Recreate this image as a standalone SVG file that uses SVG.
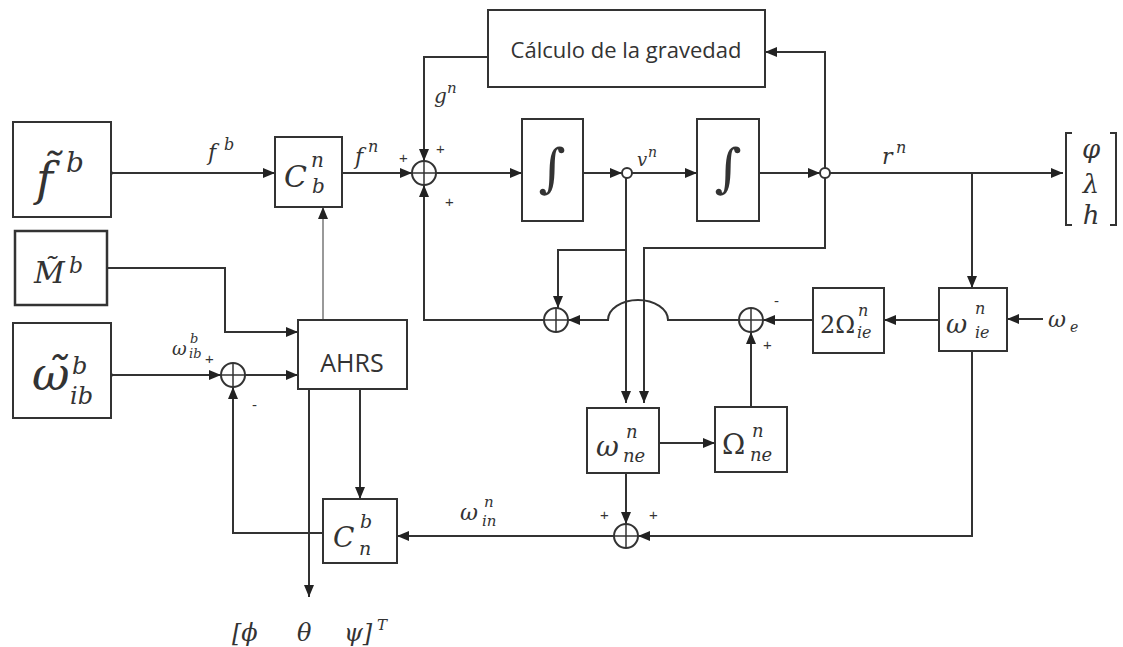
<svg xmlns="http://www.w3.org/2000/svg" width="1123" height="647" viewBox="0 0 1123 647">
<defs>
<marker id="ah" markerUnits="userSpaceOnUse" markerWidth="13" markerHeight="11" refX="12" refY="5" orient="auto"><path d="M0,0 L12,5 L0,10 z" fill="#222"/></marker>
<style>
.box{fill:#fff;stroke:#333;stroke-width:2}
.ln{fill:none;stroke:#333;stroke-width:2;marker-end:url(#ah)}
.pl{fill:none;stroke:#333;stroke-width:2}
.m{font-family:"DejaVu Serif","Liberation Serif",serif;font-style:italic;fill:#333}
.s{font-family:"Open Sans","Liberation Sans",sans-serif;fill:#333}
.sg{font-family:"Liberation Sans",sans-serif;font-size:15px;fill:#333}
.sum circle{fill:#fff;stroke:#333;stroke-width:2}
.sum path{stroke:#333;stroke-width:1.5}
</style>
</defs>
<rect width="1123" height="647" fill="#fff"/>

<g id="connectors">
<path class="ln" d="M111,173 H275"/>
<path class="ln" d="M342,173 H412"/>
<path class="ln" d="M488,57 H424 V161"/>
<path class="ln" d="M436,173 H522"/>
<path class="ln" d="M583,173 H622"/>
<path class="ln" d="M632,173 H697"/>
<path class="ln" d="M759,173 H820"/>
<path class="ln" d="M830,173 H1063"/>
<path class="ln" d="M825,168 V52 H765"/>
<path class="ln" d="M825,178 V248 H644 V403"/>
<path class="ln" d="M626,178 V403"/>
<path class="ln" d="M626,250 H558 V308"/>
<path class="ln" d="M544,320 H424 V185"/>
<path class="ln" d="M739,320 H668 A30,20 0 0 0 608,320 H568"/>
<path class="ln" d="M813,320 H763"/>
<path class="ln" d="M751,407 V332"/>
<path class="ln" d="M659,443 H715"/>
<path class="ln" d="M626,473 V524"/>
<path class="ln" d="M939,320 H884"/>
<path class="ln" d="M972,173 V288"/>
<path class="ln" d="M1043,319 H1007"/>
<path class="ln" d="M972,351 V536 H638"/>
<path class="ln" d="M614,536 H397"/>
<path class="ln" d="M323,533 H233 V387"/>
<path class="ln" d="M111,375 H221"/>
<path class="ln" d="M245,375 H298"/>
<path class="ln" d="M107,268 H225 V332 H298"/>
<path class="ln" d="M323,320 V207" style="stroke:#999"/>
<path class="ln" d="M360,389 V499"/>
<path class="ln" d="M309,389 V597"/>
<circle cx="111" cy="173" r="2" fill="#333"/>
<circle cx="111" cy="375" r="2" fill="#333"/>
</g>

<g id="sums">
<g class="sum" id="s1"><circle cx="424" cy="173" r="12"/><path d="M412,173 H436 M424,161 V185"/></g>
<g class="sum" id="s2"><circle cx="556" cy="320" r="12"/><path d="M544,320 H568 M556,308 V332"/></g>
<g class="sum" id="s3"><circle cx="751" cy="320" r="12"/><path d="M739,320 H763 M751,308 V332"/></g>
<g class="sum" id="s4"><circle cx="626" cy="536" r="12"/><path d="M614,536 H638 M626,524 V548"/></g>
<g class="sum" id="s5"><circle cx="233" cy="375" r="12"/><path d="M221,375 H245 M233,363 V387"/></g>
<circle cx="627" cy="173" r="5" fill="#fff" stroke="#333" stroke-width="2"/>
<circle cx="825" cy="173" r="5" fill="#fff" stroke="#333" stroke-width="2"/>
</g>

<g id="fb">
<rect class="box" x="13" y="122" width="98" height="95"/>
<text class="m" x="36" y="195" font-size="46">f̃</text>
<text class="m" x="66" y="172" font-size="28">b</text>
</g>
<g id="Mb">
<rect class="box" x="15" y="231" width="92" height="74" style="stroke-width:2.5"/>
<text class="m" x="34" y="283" font-size="30">M̃</text>
<text class="m" x="69" y="273" font-size="22">b</text>
</g>
<g id="wib">
<rect class="box" x="13" y="323" width="98" height="95"/>
<text class="m" x="32" y="390" font-size="46">ω̃</text>
<text class="m" x="72" y="374" font-size="24">b</text>
<text class="m" x="70" y="404" font-size="24">ib</text>
</g>
<g id="Cbn">
<rect class="box" x="275" y="137" width="67" height="70"/>
<text class="m" x="284" y="187" font-size="30">C</text>
<text class="m" x="311" y="167" font-size="20">n</text>
<text class="m" x="312" y="193" font-size="20">b</text>
</g>
<g id="calc">
<rect class="box" x="488" y="10" width="277" height="77"/>
<text class="s" x="626" y="58" font-size="22" text-anchor="middle">Cálculo de la gravedad</text>
</g>
<g id="int1">
<rect class="box" x="522" y="119" width="61" height="102"/>
<text class="m" x="552" y="186" font-size="52" text-anchor="middle" style="font-style:normal">∫</text>
</g>
<g id="int2">
<rect class="box" x="697" y="119" width="62" height="102"/>
<text class="m" x="728" y="186" font-size="52" text-anchor="middle" style="font-style:normal">∫</text>
</g>
<g id="AHRS">
<rect class="box" x="298" y="320" width="109" height="69"/>
<text class="s" x="352" y="372" font-size="25" text-anchor="middle">AHRS</text>
</g>
<g id="Cnb">
<rect class="box" x="323" y="499" width="74" height="64"/>
<text class="m" x="333" y="547" font-size="28">C</text>
<text class="m" x="360" y="528" font-size="19">b</text>
<text class="m" x="359" y="555" font-size="19">n</text>
</g>
<g id="wne">
<rect class="box" x="587" y="408" width="72" height="65"/>
<text class="m" x="596" y="456" font-size="28">ω</text>
<text class="m" x="626" y="438" font-size="18">n</text>
<text class="m" x="623" y="462" font-size="18">ne</text>
</g>
<g id="One">
<rect class="box" x="715" y="407" width="72" height="65"/>
<text class="m" x="722" y="454" font-size="28" style="font-style:normal">Ω</text>
<text class="m" x="752" y="437" font-size="18">n</text>
<text class="m" x="750" y="461" font-size="18">ne</text>
</g>
<g id="Oie">
<rect class="box" x="813" y="288" width="71" height="65"/>
<text class="m" x="820" y="333" font-size="24" style="font-style:normal">2Ω</text>
<text class="m" x="858" y="316" font-size="16">n</text>
<text class="m" x="857" y="338" font-size="16">ie</text>
</g>
<g id="wie">
<rect class="box" x="939" y="288" width="68" height="63"/>
<text class="m" x="946" y="333" font-size="26">ω</text>
<text class="m" x="975" y="314" font-size="16">n</text>
<text class="m" x="975" y="338" font-size="16">ie</text>
</g>
<g id="out">
<path class="pl" d="M1072,133 H1066 V225 H1072 M1110,133 H1116 V225 H1110"/>
<text class="m" x="1091" y="158" font-size="26" text-anchor="middle">φ</text>
<text class="m" x="1091" y="193" font-size="26" text-anchor="middle">λ</text>
<text class="m" x="1091" y="224" font-size="26" text-anchor="middle">h</text>
</g>

<g id="labels">
<text class="m" x="208" y="160" font-size="22">f</text>
<text class="m" x="224" y="150" font-size="16">b</text>
<text class="m" x="355" y="164" font-size="22">f</text>
<text class="m" x="368" y="152" font-size="16">n</text>
<text class="m" x="434" y="103" font-size="20">g</text>
<text class="m" x="447" y="93" font-size="15">n</text>
<text class="m" x="637" y="166" font-size="18">v</text>
<text class="m" x="648" y="157" font-size="14">n</text>
<text class="m" x="882" y="164" font-size="22">r</text>
<text class="m" x="896" y="153" font-size="16">n</text>
<text class="m" x="1048" y="327" font-size="22">ω</text>
<text class="m" x="1070" y="332" font-size="14">e</text>
<text class="m" x="460" y="520" font-size="22">ω</text>
<text class="m" x="484" y="507" font-size="15">n</text>
<text class="m" x="482" y="526" font-size="15">in</text>
<text class="m" x="172" y="355" font-size="18">ω</text>
<text class="m" x="190" y="343" font-size="13">b</text>
<text class="m" x="189" y="358" font-size="13">ib</text>
<text class="m" x="232" y="641" font-size="24">[ϕ</text>
<text class="m" x="297" y="641" font-size="24">θ</text>
<text class="m" x="344" y="641" font-size="24">ψ]</text>
<text class="m" x="377" y="630" font-size="15">T</text>
</g>

<g id="signs">
<text class="sg" x="399" y="163">+</text>
<text class="sg" x="436" y="154">+</text>
<text class="sg" x="445" y="207">+</text>
<text class="sg" x="205" y="364">+</text>
<text class="sg" x="252" y="410">-</text>
<text class="sg" x="774" y="306">-</text>
<text class="sg" x="763" y="350">+</text>
<text class="sg" x="600" y="520">+</text>
<text class="sg" x="649" y="520">+</text>
</g>
</svg>
